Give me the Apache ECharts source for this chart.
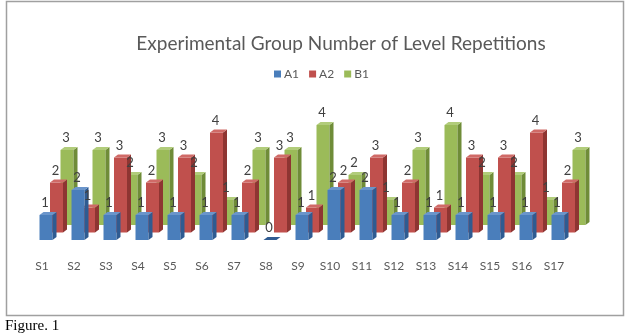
<!DOCTYPE html>
<html>
<head>
<meta charset="utf-8">
<script src="https://cdn.jsdelivr.net/npm/echarts@6/dist/echarts.min.js"></script>
<style>
  html, body { margin: 0; padding: 0; background: #fff; }
  #chart { width: 627px; height: 335px; }
</style>
</head>
<body>
<div id="chart"></div>
<script>
const categories = ['S1', 'S2', 'S3', 'S4', 'S5', 'S6', 'S7', 'S8', 'S9', 'S10', 'S11', 'S12', 'S13', 'S14', 'S15', 'S16', 'S17'];
const seriesNames = ['A1', 'A2', 'B1'];
const a1 = [1, 2, 1, 1, 1, 1, 1, 0, 1, 2, 2, 1, 1, 1, 1, 1, 1];
const a2 = [2, 1, 3, 2, 3, 4, 2, 3, 1, 2, 3, 2, 1, 3, 3, 4, 2];
const b1 = [3, 3, 2, 3, 2, 1, 3, 3, 4, 2, 1, 3, 4, 2, 2, 1, 3];

// front / side / top colours per row
const faces = [
  ['#4a7ebb', '#2f5b91', '#6a95cb'],
  ['#c0504d', '#8e3532', '#d06a67'],
  ['#9bbb59', '#6f8c38', '#b1cc7a']
];

let myChart = echarts.init(document.getElementById('chart'));

function boxRenderer(row) {
  return function (params, api) {
    const i = api.value(0), v = api.value(1);
    const base = api.coord([i, 0]);
    const top = api.coord([i, v]);
    const w = 13, dx = 4, dy = -3;
    const ox = 4 + row * 10.5, oy = -row * 7.5;
    const xL = base[0] + ox - w / 2;
    const yT = top[1] + oy, yB = base[1] + oy;
    const c = faces[row];
    const z2 = 3 - row;
    return {
      type: 'group',
      children: [
        { type: 'rect', shape: { x: xL, y: yT, width: w, height: yB - yT }, style: { fill: c[0] }, z2: z2 },
        { type: 'polygon', shape: { points: [[xL + w, yT], [xL + w + dx, yT + dy], [xL + w + dx, yB + dy], [xL + w, yB]] }, style: { fill: c[1] }, z2: z2 },
        { type: 'polygon', shape: { points: [[xL, yT], [xL + w, yT], [xL + w + dx, yT + dy], [xL + dx, yT + dy]] }, style: { fill: v === 0 ? c[1] : c[2] }, z2: z2 },
        { type: 'text', x: xL + w / 2 - 1, y: yT - 12, style: { text: String(v), fill: '#404040', font: '13px Lato', align: 'center', verticalAlign: 'middle' }, z2: 20 }
      ]
    };
  };
}

const rows = [a1, a2, b1];
// back rows first
const series = [2, 1, 0].map(function (r) {
  return {
    name: seriesNames[r],
    type: 'custom',
    renderItem: boxRenderer(r),
    itemStyle: { color: faces[r][0] },
    encode: { x: 0, y: 1 },
    data: rows[r].map(function (v, i) { return [i, v]; })
  };
});

let option = {
  animation: false,
  title: {
    text: 'Experimental Group Number of Level Repetitions',
    left: 336,
    textAlign: 'center',
    top: 29,
    textStyle: { fontFamily: 'Lato', fontSize: 19, fontWeight: 'normal', color: '#595959' }
  },
  legend: {
    data: seriesNames,
    top: 63,
    left: 269,
    icon: 'rect',
    itemWidth: 7,
    itemHeight: 7,
    itemGap: 10,
    textStyle: { fontFamily: 'Lato', fontSize: 12, color: '#595959', padding: [0, 0, 0, -2] }
  },
  grid: { left: 26, width: 544, top: 115, height: 125 },
  xAxis: {
    type: 'category',
    data: categories,
    axisLine: { show: false },
    axisTick: { show: false },
    axisLabel: { margin: 20, fontFamily: 'Lato', fontSize: 12, color: '#595959' }
  },
  yAxis: {
    type: 'value',
    min: 0,
    max: 5,
    show: false,
    splitLine: { show: false }
  },
  graphic: [
    { type: 'rect', shape: { x: 6.5, y: 1.5, width: 617, height: 314 }, style: { fill: null, stroke: '#a0a0a0', lineWidth: 1.5 } },
    { type: 'text', left: 5, top: 319, style: { text: 'Figure. 1', font: '15px "Liberation Serif"', fill: '#000' } }
  ],
  series: series
};
myChart.setOption(option);
</script>
</body>
</html>
